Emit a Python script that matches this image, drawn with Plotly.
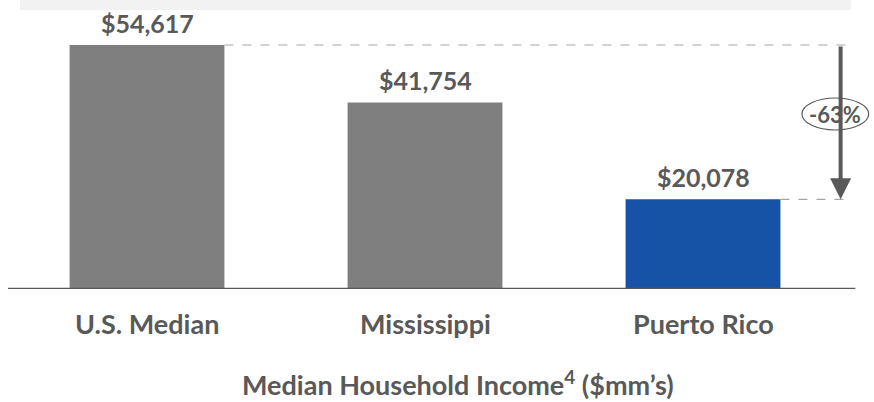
import plotly.graph_objects as go

# ----- Data -----
categories = ["U.S. Median", "Mississippi", "Puerto Rico"]
incomes = [54617, 41754, 20078]
bar_colors = ["#7f7f7f", "#7f7f7f", "#1652a5"]
change_label = "-63%"

TXT = "#595959"
FONT = "Lato"

fig = go.Figure(go.Bar(
    x=list(range(len(categories))), y=incomes,
    marker=dict(color=bar_colors, line=dict(width=0)),
    width=0.557, hoverinfo="skip",
))

# value labels above bars, category labels under the axis
for i, v in enumerate(incomes):
    fig.add_annotation(x=i, y=v, text=f"<b>${v:,}</b>", showarrow=False,
                       yanchor="middle", yshift=22,
                       font=dict(family=FONT, size=25, color=TXT))
    fig.add_annotation(x=i, y=0, text=f"<b>{categories[i]}</b>", showarrow=False,
                       yanchor="middle", yshift=-34,
                       font=dict(family=FONT, size=27, color=TXT))

# dashed guide lines from US and PR bars to the arrow
arrow_x = 2.495
half = 0.557 / 2
for i in (0, 2):
    fig.add_shape(type="line", x0=i + half, x1=arrow_x + 0.022, y0=incomes[i], y1=incomes[i],
                  line=dict(color="#a6a6a6", width=1.2, dash="dash"))

# arrow showing the drop
fig.add_annotation(x=arrow_x, y=incomes[2], ax=arrow_x, ay=incomes[0],
                   xref="x", yref="y", axref="x", ayref="y",
                   showarrow=True, arrowhead=2, arrowsize=1.05, arrowwidth=4,
                   arrowcolor=TXT, text="")

# ellipse with % change
ex0, ex1, ey0, ey1 = 2.356, 2.596, 35590, 42753
fig.add_shape(type="circle", x0=ex0, x1=ex1, y0=ey0, y1=ey1,
              fillcolor="white", line=dict(color=TXT, width=1.2), layer="above")
fig.add_annotation(x=(ex0 + ex1) / 2, y=(ey0 + ey1) / 2, text=f"<b>{change_label}</b>",
                   showarrow=False, font=dict(family=FONT, size=22, color=TXT))

# baseline axis line
fig.add_shape(type="line", xref="paper", yref="y", x0=0, x1=0.983, y0=0, y1=0,
              line=dict(color=TXT, width=2.5))

# light band at the top
fig.add_shape(type="rect", xref="paper", yref="paper", x0=0.014, x1=0.978,
              y0=1.0, y1=1.036, fillcolor="#f2f2f2", line=dict(width=0), layer="below")

# chart title
fig.add_annotation(xref="paper", yref="paper", x=(458 - 8) / 862, y=0, yanchor="middle", yshift=-94,
                   text="<b>Median Household Income<sup>4</sup> ($mm’s)</b>", showarrow=False,
                   font=dict(family=FONT, size=27, color=TXT))

fig.update_layout(
    width=874, height=402,
    margin=dict(l=8, r=4, t=10, b=113),
    paper_bgcolor="white", plot_bgcolor="white",
    showlegend=False,
    xaxis=dict(range=[-0.5, 2.6007], visible=False, fixedrange=True),
    yaxis=dict(range=[0, 62452], visible=False, fixedrange=True),
)

fig.write_html("out.html", config={"displayModeBar": False},
               post_script="document.body.style.margin='0';")
